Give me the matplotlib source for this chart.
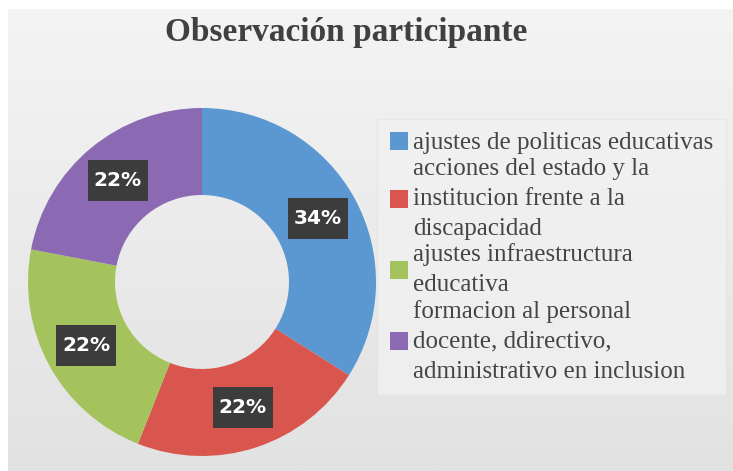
import numpy as np
import matplotlib.pyplot as plt
from matplotlib.patches import Patch
from matplotlib.path import Path

# Data
labels = ['ajustes de politicas educativas',
          'acciones del estado y la\ninstitucion frente a la\ndiscapacidad',
          'ajustes infraestructura\neducativa',
          'formacion al personal\ndocente, ddirectivo,\nadministrativo en inclusion']
values = [34, 22, 22, 22]
colors = ['#5B97D1', '#D9564E', '#A4C35C', '#8C6AB3']
title = 'Observación participante'

W, H = 733, 471
fig = plt.figure(figsize=(W / 100, H / 100), dpi=100, facecolor='white')

# light grey gradient background (white margin top / left)
bg = fig.add_axes([8 / W, 0, 1 - 8 / W, 1 - 9 / H], zorder=-10)
grad = np.linspace(0, 1, 256).reshape(-1, 1)
bg.imshow(grad, aspect='auto', cmap=plt.matplotlib.colors.LinearSegmentedColormap.from_list(
    'g', ['#f4f4f4', '#e2e2e2']), extent=[0, 1, 0, 1])
bg.set_axis_off()


def tall_box(x0, y0, width, height, mutation_size):
    # label box: narrow side padding, taller top/bottom padding
    px, py = 0.3 * mutation_size, 0.55 * mutation_size
    x0, y0, x1, y1 = x0 - px, y0 - py, x0 + width + px, y0 + height + py
    return Path([(x0, y0), (x1, y0), (x1, y1), (x0, y1), (x0, y0)], closed=True)


# Donut
cx, cy, r = 202, 282, 174
ax = fig.add_axes([(cx - r) / W, (H - cy - r) / H, 2 * r / W, 2 * r / H])
wedges, texts, autotexts = ax.pie(
    values, colors=colors, startangle=90, counterclock=False,
    wedgeprops=dict(width=0.5, edgecolor='none'),
    autopct='%d%%', pctdistance=0.76,
    textprops=dict(color='white', fontsize=14.5, fontweight='bold', family='DejaVu Sans'))
for t in autotexts:
    t.set_bbox(dict(facecolor='#3c3c3c', edgecolor='none', boxstyle=tall_box))
ax.set_xlim(-1, 1)
ax.set_ylim(-1, 1)
ax.set_aspect('equal')

# Title
fig.text(346 / W, 1 - 33 / H, title, ha='center', va='center', fontsize=24,
         fontweight='bold', family='Liberation Serif', color='#404040')

# Legend
handles = [Patch(facecolor=c, edgecolor='none') for c in colors]
leg = fig.legend(handles, labels, loc='upper left', bbox_to_anchor=(377 / W, 1 - 119 / H),
                 prop=dict(family='Liberation Serif', size=18), labelcolor='#454545',
                 frameon=True, fancybox=False, handlelength=0.75, handleheight=0.75,
                 handletextpad=0.2, labelspacing=0.15, borderpad=0.5, borderaxespad=0)
for t in leg.get_texts():
    t.set_linespacing(1.46)
leg.get_frame().set_facecolor('#f1f1f1')
leg.get_frame().set_edgecolor('#e4e4e4')

fig.savefig('out.png', dpi=100)
